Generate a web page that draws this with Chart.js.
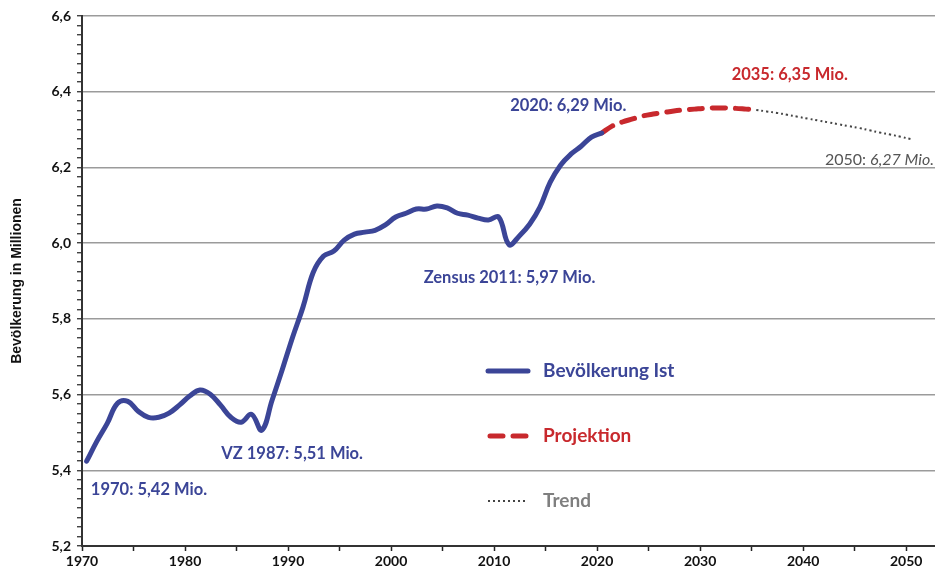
<!DOCTYPE html>
<html lang="de">
<head>
<meta charset="utf-8">
<title>Bevölkerung in Millionen</title>
<script src="https://cdn.jsdelivr.net/npm/chart.js@4.4.1/dist/chart.umd.min.js"></script>
<style>
    html, body { margin: 0; padding: 0; background: #fff; }
    #wrap { width: 935px; height: 575px; }
</style>
</head>
<body>
<div id="wrap"><canvas id="popChart" width="935" height="575"></canvas></div>
<script>
// Bevölkerung Ist (Mio.), 1970-2020
const yearsIst = [1970, 1971, 1972, 1973, 1974, 1975, 1976, 1977, 1978, 1979,
    1980, 1981, 1982, 1983, 1984, 1985, 1986, 1987, 1988, 1989,
    1990, 1991, 1992, 1993, 1994, 1995, 1996, 1997, 1998, 1999,
    2000, 2001, 2002, 2003, 2004, 2005, 2006, 2007, 2008, 2009,
    2010, 2011, 2012, 2013, 2014, 2015, 2016, 2017, 2018, 2019, 2020];
const bevIst = [5.424, 5.477, 5.524, 5.577, 5.582, 5.556, 5.540, 5.540, 5.551, 5.572,
    5.596, 5.612, 5.601, 5.572, 5.540, 5.527, 5.548, 5.506, 5.585, 5.667,
    5.752, 5.831, 5.923, 5.966, 5.979, 6.008, 6.024, 6.029, 6.034, 6.048,
    6.069, 6.079, 6.090, 6.090, 6.098, 6.093, 6.079, 6.074, 6.066, 6.061,
    6.069, 5.996, 6.019, 6.050, 6.095, 6.161, 6.206, 6.235, 6.256, 6.280, 6.291];

// Projektion 2020-2035
const yearsProj = [2020, 2021, 2022, 2023, 2024, 2025, 2026, 2027, 2028, 2029,
    2030, 2031, 2032, 2033, 2034, 2035];
const projektion = [6.291, 6.309, 6.320, 6.328, 6.336, 6.341, 6.345, 6.349, 6.352, 6.354,
    6.356, 6.357, 6.357, 6.356, 6.354, 6.352];

// Trend 2035-2050
const yearsTrend = [2035, 2036, 2037, 2038, 2039, 2040, 2041, 2042, 2043, 2044,
    2045, 2046, 2047, 2048, 2049, 2050];
const trend = [6.352, 6.348, 6.344, 6.339, 6.334, 6.329, 6.324, 6.319, 6.314, 6.309,
    6.304, 6.298, 6.292, 6.287, 6.281, 6.275];

// axis ticks
const xTickYears = [1970, 1975, 1980, 1985, 1990, 1995, 2000, 2005, 2010, 2015,
    2020, 2025, 2030, 2035, 2040, 2045, 2050];
const yMajorTicks = [5.2, 5.4, 5.6, 5.8, 6.0, 6.2, 6.4, 6.6];

// values are reported for a reference day within the year
const STICHTAG = 0.45;

const BLUE = "#3b4597";
const RED = "#c8292d";
const TREND = "#444444";

function toPoints(years, vals) {
    return years.map((y, i) => ({ x: y + STICHTAG, y: vals[i] }));
}

function fmt(v) {
    return v.toFixed(1).replace(".", ",");
}

// annotation labels, anchored in data coordinates
const labels = [
    { parts: [["2020: 6,29 Mio.", "bold 16.5px Lato", BLUE]], x: 2017.2, y: 6.362, align: "center" },
    { parts: [["2035: 6,35 Mio.", "bold 16.5px Lato", RED]], x: 2038.7, y: 6.444, align: "center" },
    { parts: [["2050: ", "16px Lato", "#555"], ["6,27 Mio.", "italic 16px Lato", "#555"]], x: 2052.7, y: 6.219, align: "right" },
    { parts: [["Zensus 2011: 5,97 Mio.", "bold 16.5px Lato", BLUE]], x: 2011.5, y: 5.910, align: "center" },
    { parts: [["VZ 1987: 5,51 Mio.", "bold 16.5px Lato", BLUE]], x: 1990.4, y: 5.445, align: "center" },
    { parts: [["1970: 5,42 Mio.", "bold 16.5px Lato", BLUE]], x: 1976.5, y: 5.350, align: "center" }
];

const legendRows = [
    { text: "Bevölkerung Ist", color: BLUE, dataset: 0 },
    { text: "Projektion", color: RED, dataset: 1 },
    { text: "Trend", color: "#7f7f7f", dataset: 2 }
];

const annotationPlugin = {
    id: "annotations",
    afterDatasetsDraw(chart) {
        const ctx = chart.ctx;
        const xs = chart.scales.x;
        const ys = chart.scales.y;
        ctx.save();
        ctx.textBaseline = "middle";

        labels.forEach(l => {
            const px = xs.getPixelForValue(l.x);
            const py = ys.getPixelForValue(l.y);
            let total = 0;
            l.parts.forEach(p => { ctx.font = p[1]; total += ctx.measureText(p[0]).width; });
            let cx = l.align === "center" ? px - total / 2 : px - total;
            ctx.textAlign = "left";
            l.parts.forEach(p => {
                ctx.font = p[1];
                ctx.fillStyle = p[2];
                ctx.fillText(p[0], cx, py);
                cx += ctx.measureText(p[0]).width;
            });
        });

        // legend inside plot area
        const area = chart.chartArea;
        const lx = area.left + 406;
        const ly0 = area.top + 355;
        legendRows.forEach((row, i) => {
            const ds = chart.data.datasets[row.dataset];
            const y = ly0 + i * 65;
            ctx.beginPath();
            ctx.strokeStyle = ds.borderColor;
            ctx.lineWidth = ds.borderWidth;
            ctx.lineCap = ds.borderCapStyle || "butt";
            ctx.setLineDash(ds.borderDash || []);
            ctx.moveTo(lx + (row.dataset === 1 ? 2 : 0), y);
            ctx.lineTo(lx + 40, y);
            ctx.stroke();
            ctx.setLineDash([]);
            ctx.font = "bold 19px Lato";
            ctx.fillStyle = row.color;
            ctx.fillText(row.text, lx + 55, y);
        });
        ctx.restore();
    }
};

document.addEventListener("DOMContentLoaded", function () {
    const ctx = document.getElementById("popChart").getContext("2d");
    new Chart(ctx, {
        type: "line",
        data: {
            datasets: [
                {
                    label: "Bevölkerung Ist",
                    data: toPoints(yearsIst, bevIst),
                    borderColor: BLUE,
                    borderWidth: 5,
                    borderCapStyle: "round",
                    borderJoinStyle: "round",
                    tension: 0.4,
                    pointRadius: 0,
                    fill: false
                },
                {
                    label: "Projektion",
                    data: toPoints(yearsProj, projektion),
                    borderColor: RED,
                    borderWidth: 5,
                    borderCapStyle: "round",
                    borderDash: [13, 10],
                    tension: 0.4,
                    pointRadius: 0,
                    fill: false
                },
                {
                    label: "Trend",
                    data: toPoints(yearsTrend, trend),
                    borderColor: TREND,
                    borderWidth: 2,
                    borderDash: [2, 3],
                    tension: 0.4,
                    pointRadius: 0,
                    fill: false
                }
            ]
        },
        options: {
            responsive: false,
            animation: false,
            layout: { padding: { top: 16, right: 0, left: 0, bottom: 0 } },
            plugins: {
                legend: { display: false },
                tooltip: { enabled: false }
            },
            scales: {
                x: {
                    type: "linear",
                    min: 1970,
                    max: 2052.8,
                    afterBuildTicks: scale => {
                        scale.ticks = xTickYears.map(v => ({ value: v }));
                    },
                    afterFit: scale => { scale.height = 29; },
                    ticks: {
                        autoSkip: false,
                        maxRotation: 0,
                        padding: 2,
                        color: "#111",
                        font: { family: "Lato", weight: "bold", size: 14 },
                        callback: v => (v % 10 === 0 ? String(v) : "")
                    },
                    grid: {
                        drawOnChartArea: false,
                        drawTicks: true,
                        tickLength: 5,
                        tickColor: "#222",
                        tickWidth: 1.5
                    },
                    border: { display: true, color: "#333", width: 2 }
                },
                y: {
                    min: 5.2,
                    max: 6.6,
                    afterBuildTicks: scale => {
                        const t = [];
                        for (let i = 0; i <= 56; i++) {
                            t.push({ value: Math.round((5.2 + i * 0.025) * 1000) / 1000, major: i % 8 === 0 });
                        }
                        scale.ticks = t;
                    },
                    afterFit: scale => { scale.width = 82; },
                    ticks: {
                        autoSkip: false,
                        padding: 6,
                        color: "#111",
                        font: { family: "Lato", weight: "bold", size: 14 },
                        callback: v => (yMajorTicks.some(m => Math.abs(m - v) < 1e-6) ? fmt(v) : "")
                    },
                    grid: {
                        color: c => (c.tick && yMajorTicks.some(m => Math.abs(m - c.tick.value) < 1e-6) ? "#9b9b9b" : "rgba(0,0,0,0)"),
                        lineWidth: 1.5,
                        drawTicks: true,
                        tickLength: 5,
                        tickColor: "#222",
                        tickWidth: 1.2
                    },
                    border: { display: true, color: "#333", width: 2 },
                    title: {
                        display: true,
                        text: "Bevölkerung in Millionen",
                        color: "#111",
                        font: { family: "Liberation Sans", weight: "bold", size: 14 },
                        padding: { top: 9, bottom: 0 }
                    }
                }
            }
        },
        plugins: [annotationPlugin]
    });
});
</script>
</body>
</html>
